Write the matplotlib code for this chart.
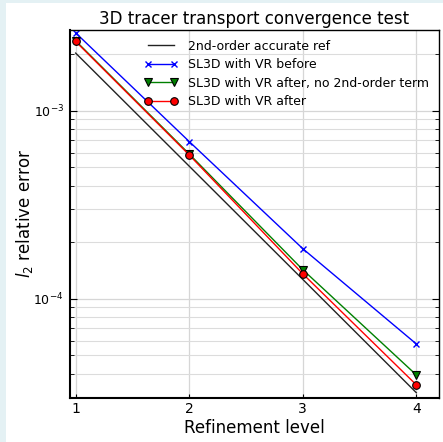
import matplotlib
matplotlib.use("Agg")
import matplotlib.pyplot as plt
from matplotlib.patches import Rectangle

# refinement levels and l2 relative errors
levels = [1, 2, 3, 4]
ref_2nd_order = [2.03e-3, 5.08e-4, 1.27e-4, 3.17e-5]
vr_before = [2.60e-3, 6.87e-4, 1.85e-4, 5.76e-5]
vr_after_no2nd = [2.36e-3, 5.90e-4, 1.43e-4, 3.94e-5]
vr_after = [2.34e-3, 5.83e-4, 1.36e-4, 3.49e-5]

labels = [
    "2nd-order accurate ref",
    "SL3D with VR before",
    "SL3D with VR after, no 2nd-order term",
    "SL3D with VR after",
]


def main():
    plt.rcParams["axes.unicode_minus"] = False

    fig = plt.figure(figsize=(4.43, 4.42), dpi=100)
    fig.patch.set_facecolor("#e4f1f4")
    fig.patches.append(Rectangle((6 / 443, 0), 1, 1 - 3 / 442, transform=fig.transFigure,
                                 facecolor="white", edgecolor="none", zorder=-1))

    ax = fig.add_axes([70 / 443, 44 / 442, 369 / 443, 368.5 / 442])

    ax.plot(levels, ref_2nd_order, color="#222222", lw=1.0, label=labels[0])
    ax.plot(levels, vr_before, color="blue", lw=1.0, marker="x", ms=5, mew=1.0, label=labels[1])
    ax.plot(levels, vr_after_no2nd, color="green", lw=1.0, marker="v", ms=5.5,
            mfc="green", mec="black", mew=0.8, label=labels[2])
    ax.plot(levels, vr_after, color="red", lw=1.0, marker="o", ms=5.5,
            mfc="red", mec="black", mew=0.8, label=labels[3])

    ax.set_yscale("log")
    ax.set_xlim(0.95, 4.2)
    ax.set_ylim(2.97e-5, 2.71e-3)
    ax.set_xticks(levels)

    ax.grid(True, which="major", color="#d6d6d6", lw=0.9)
    ax.grid(True, which="minor", axis="y", color="#dcdcdc", lw=0.8)
    ax.set_axisbelow(True)

    ax.tick_params(which="both", direction="in", left=True, right=True, top=False)
    ax.tick_params(axis="y", which="major", length=5, pad=4.5, labelsize=9)
    ax.tick_params(axis="x", which="major", length=3, pad=3, labelsize=10)
    ax.tick_params(which="minor", length=3)

    for side in ["left", "bottom"]:
        ax.spines[side].set_linewidth(1.5)
    for side in ["top", "right"]:
        ax.spines[side].set_linewidth(1.0)

    ax.set_title("3D tracer transport convergence test", fontsize=12, pad=4)
    ax.set_xlabel("Refinement level", fontsize=12, labelpad=2)
    ax.set_ylabel("$l_2$ relative error", fontsize=12)
    ax.yaxis.set_label_coords(-0.095, 0.5)

    ax.legend(loc="upper right", frameon=False, fontsize=9, numpoints=2,
              handlelength=2.7, handletextpad=0.8, labelspacing=0.45,
              borderaxespad=0.4)

    fig.savefig("out.png", dpi=100, facecolor=fig.get_facecolor())


if __name__ == "__main__":
    main()
